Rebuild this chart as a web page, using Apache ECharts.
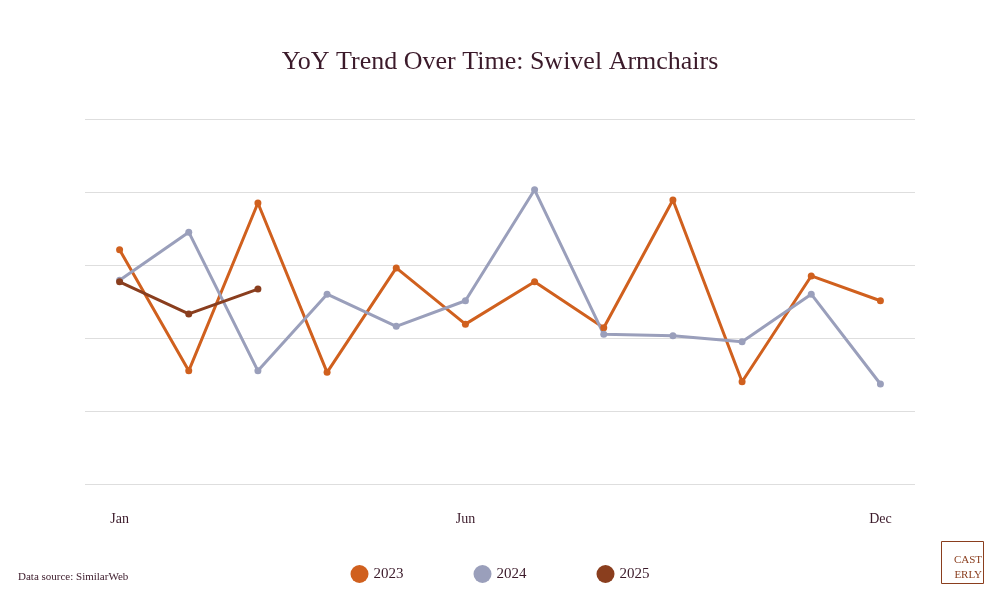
<!DOCTYPE html>
<html><head><meta charset="utf-8">
<script src="https://cdn.jsdelivr.net/npm/echarts@6/dist/echarts.min.js"></script>
<style>html,body{margin:0;padding:0;background:#fff}#c{width:1000px;height:600px}</style>
</head><body><div id="c"></div>
<script>
const months = ['Jan','Feb','Mar','Apr','May','Jun','Jul','Aug','Sep','Oct','Nov','Dec'];
const shownLabels = ['Jan','Jun','Dec'];
const s2023 = [3.21,1.55,3.85,1.53,2.96,2.19,2.77,2.14,3.89,1.40,2.85,2.51];
const s2024 = [2.79,3.45,1.55,2.60,2.16,2.51,4.03,2.05,2.03,1.95,2.60,1.37];
const s2025 = [2.77,2.33,2.67];
const chart = echarts.init(document.getElementById('c'));
const mk = (name, data, color) => ({name, type:'line', data, symbol:'circle', symbolSize:7,
  lineStyle:{width:3,color}, itemStyle:{color}});
chart.setOption({
  title:{text:'YoY Trend Over Time: Swivel Armchairs', left:'center', top:44,
    textStyle:{fontFamily:'Liberation Serif, serif', fontSize:26, fontWeight:'normal', color:'#3b1a2a'}},
  grid:{left:85, right:85, top:119, bottom:116},
  xAxis:{type:'category', data:months, boundaryGap:true,
    axisLine:{show:false}, axisTick:{show:false},
    axisLabel:{interval:0, margin:28, fontFamily:'Liberation Serif, serif', fontSize:14, color:'#3b1a2a',
      formatter:v=>shownLabels.includes(v)?v:''}},
  yAxis:{type:'value', min:0, max:5, interval:1, axisLabel:{show:false},
    splitLine:{lineStyle:{color:'#dedede'}}},
  legend:{bottom:12, left:'center', icon:'circle', itemWidth:18, itemHeight:18, itemGap:70,
    textStyle:{fontFamily:'Liberation Serif, serif', fontSize:15, color:'#3b1a2a'}},
  series:[mk('2023',s2023,'#d0601e'), mk('2024',s2024,'#9a9fbb'), mk('2025',s2025,'#8a3e1e')],
  graphic:[
    {type:'text', left:18, bottom:17, style:{text:'Data source: SimilarWeb', fontFamily:'Liberation Serif, serif', fontSize:11, fill:'#3b1a2a'}},
    {type:'rect', right:14, bottom:14, shape:{width:42,height:42}, style:{fill:'none', stroke:'#8a3e1e', lineWidth:1}},
    {type:'text', right:18, bottom:34, style:{text:'CAST', fontFamily:'Liberation Serif, serif', fontSize:11, fill:'#8a3e1e'}},
    {type:'text', right:18, bottom:19, style:{text:'ERLY', fontFamily:'Liberation Serif, serif', fontSize:11, fill:'#8a3e1e'}}
  ]
});
</script></body></html>
